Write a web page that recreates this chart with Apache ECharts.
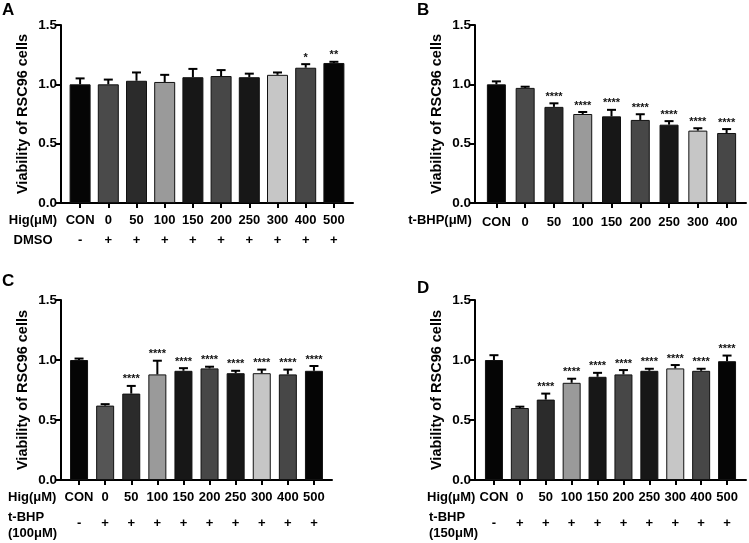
<!DOCTYPE html>
<html>
<head>
<meta charset="utf-8">
<script src="https://cdn.jsdelivr.net/npm/echarts@6/dist/echarts.min.js"></script>
<style>html,body{margin:0;padding:0;background:#fff}#c{width:749px;height:543px}</style>
</head>
<body>
<div id="c"></div>
<script>
// ---- data ----
const catsA = ['CON','0','50','100','150','200','250','300','400','500'];
const signsA = ['-','+','+','+','+','+','+','+','+','+'];
const valuesA = [1.00,1.00,1.03,1.02,1.06,1.07,1.06,1.08,1.14,1.18];
const errorsA = [0.05,0.04,0.07,0.06,0.07,0.05,0.03,0.02,0.03,0.01];
const starsA = ['','','','','','','','','*','**'];

const catsB = ['CON','0','50','100','150','200','250','300','400'];
const valuesB = [1.00,0.97,0.81,0.75,0.73,0.70,0.66,0.61,0.59];
const errorsB = [0.025,0.01,0.03,0.017,0.055,0.048,0.03,0.02,0.033];
const starsB = ['','','****','****','****','****','****','****','****'];

const catsC = ['CON','0','50','100','150','200','250','300','400','500'];
const signsC = ['-','+','+','+','+','+','+','+','+','+'];
const valuesC = [1.00,0.62,0.72,0.88,0.91,0.93,0.89,0.89,0.88,0.91];
const errorsC = [0.012,0.012,0.064,0.114,0.022,0.014,0.02,0.03,0.04,0.04];
const starsC = ['','','****','****','****','****','****','****','****','****'];

const catsD = ['CON','0','50','100','150','200','250','300','400','500'];
const signsD = ['-','+','+','+','+','+','+','+','+','+'];
const valuesD = [1.00,0.60,0.67,0.81,0.86,0.88,0.91,0.93,0.91,0.99];
const errorsD = [0.04,0.011,0.05,0.034,0.033,0.036,0.017,0.028,0.017,0.047];
const starsD = ['','','****','****','****','****','****','****','****','****'];

const yTicks = [0, 0.5, 1.0, 1.5];
const yTitle = 'Viability of RSC96 cells';

// ---- styles ----
const FONT = '"Liberation Sans", Arial, sans-serif';
const palA = ['#050505','#4a4a4a','#2b2b2b','#9a9a9a','#171717','#474747','#171717','#c6c6c6','#474747','#050505'];
const palB = palA.slice(0, 9);
const palC = ['#050505','#555555','#2b2b2b','#9a9a9a','#171717','#474747','#171717','#c6c6c6','#474747','#050505'];
const palD = ['#050505','#505050','#2b2b2b','#9a9a9a','#171717','#474747','#171717','#c6c6c6','#474747','#050505'];

const panels = [
  {outer:{left:61,top:25,width:292,height:178}, inner:{left:66,top:25,width:282,height:178},
   cats:catsA, signs:signsA, vals:valuesA, errs:errorsA, stars:starsA, pal:palA, bw:21, lh:20, margin:7},
  {outer:{left:475,top:25,width:271,height:178}, inner:{left:482,top:25,width:259,height:178},
   cats:catsB, signs:null, vals:valuesB, errs:errorsB, stars:starsB, pal:palB, bw:19, lh:16, margin:11},
  {outer:{left:61,top:300,width:271,height:180}, inner:{left:66,top:300,width:261,height:180},
   cats:catsC, signs:signsC, vals:valuesC, errs:errorsC, stars:starsC, pal:palC, bw:18, lh:26, margin:4},
  {outer:{left:475,top:300,width:271,height:180}, inner:{left:481,top:300,width:259,height:180},
   cats:catsD, signs:signsD, vals:valuesD, errs:errorsD, stars:starsD, pal:palD, bw:18, lh:26, margin:4}
];

const grid = [], xAxis = [], yAxis = [], series = [];
panels.forEach((p, k) => {
  const go = grid.length; grid.push(p.outer);
  const gi = grid.length; grid.push(p.inner);
  // outer axes: frame lines + y labels
  xAxis.push({gridIndex:go, type:'value', min:0, max:1, axisLine:{show:true,onZero:false,lineStyle:{color:'#000',width:2}},
    axisTick:{show:false}, axisLabel:{show:false}, splitLine:{show:false}});
  yAxis.push({gridIndex:go, type:'value', min:0, max:1.5, interval:0.5,
    axisLine:{show:true,lineStyle:{color:'#000',width:2}},
    axisTick:{show:true,length:5,lineStyle:{color:'#000',width:2}},
    axisLabel:{color:'#000',fontFamily:FONT,fontWeight:'bold',fontSize:13.5,margin:4,
      formatter:v => yTicks.indexOf(v) >= 0 ? v.toFixed(1) : ''},
    splitLine:{show:false},
    name:yTitle, nameLocation:'middle', nameGap:31,
    nameTextStyle:{color:'#000',fontFamily:FONT,fontWeight:'bold',fontSize:14.5}});
  // inner axes: bars
  const xi = xAxis.length;
  xAxis.push({gridIndex:gi, type:'category', data:p.cats, boundaryGap:true,
    axisLine:{show:false},
    axisTick:{show:true,alignWithLabel:true,length:5,lineStyle:{color:'#000',width:2}},
    axisLabel:{color:'#000',fontFamily:FONT,fontWeight:'bold',fontSize:13,margin:p.margin,lineHeight:p.lh,interval:0,
      formatter:(v, i) => p.signs ? v + '\n' + p.signs[i] : v}});
  const yi = yAxis.length;
  yAxis.push({gridIndex:gi, type:'value', min:0, max:1.5, show:false});
  series.push({type:'bar', xAxisIndex:xi, yAxisIndex:yi, barWidth:p.bw,
    data:p.vals.map((v,i)=>({value:v, itemStyle:{color:p.pal[i]}})),
    itemStyle:{borderColor:'#111',borderWidth:1}, z:2});
  series.push({type:'custom', xAxisIndex:xi, yAxisIndex:yi, z:5,
    data:p.vals.map((v,i)=>[i, v, p.errs[i]]),
    renderItem:(params, api) => {
      const i = api.value(0), v = api.value(1), e = api.value(2);
      const a = api.coord([i, v]), b = api.coord([i, v + e]);
      const st = {stroke:'#000', lineWidth:2};
      const ch = [
        {type:'line', shape:{x1:a[0],y1:a[1],x2:b[0],y2:b[1]}, style:st},
        {type:'line', shape:{x1:b[0]-4.5,y1:b[1],x2:b[0]+4.5,y2:b[1]}, style:st}
      ];
      const s = p.stars[params.dataIndex];
      if (s) ch.push({type:'text', x:b[0], y:b[1]-1,
        style:{text:s, fill:'#111', font:'bold 11px ' + FONT, textAlign:'center', textVerticalAlign:'bottom'}});
      return {type:'group', children:ch};
    }});
});

function txt(x, y, t, size, align) {
  return {type:'text', x:x, y:y, style:{text:t, fill:'#000', font:'bold ' + size + 'px ' + FONT,
    textAlign:align || 'left', textVerticalAlign:'middle'}};
}
const graphic = [
  txt(2, 10, 'A', 17), txt(417, 10, 'B', 17), txt(2, 281, 'C', 17), txt(417, 288, 'D', 17),
  txt(33, 220, 'Hig(μM)', 13, 'center'), txt(33, 240, 'DMSO', 13, 'center'),
  txt(440, 220, 't-BHP(μM)', 13, 'center'),
  txt(8, 497, 'Hig(μM)', 13), txt(8, 517, 't-BHP', 13), txt(8, 533, '(100μM)', 13),
  txt(427, 497, 'Hig(μM)', 13), txt(429, 517, 't-BHP', 13), txt(429, 533, '(150μM)', 13)
];

const chart = echarts.init(document.getElementById('c'));
chart.setOption({animation:false, backgroundColor:'#fff', grid, xAxis, yAxis, series, graphic});
</script>
</body>
</html>
